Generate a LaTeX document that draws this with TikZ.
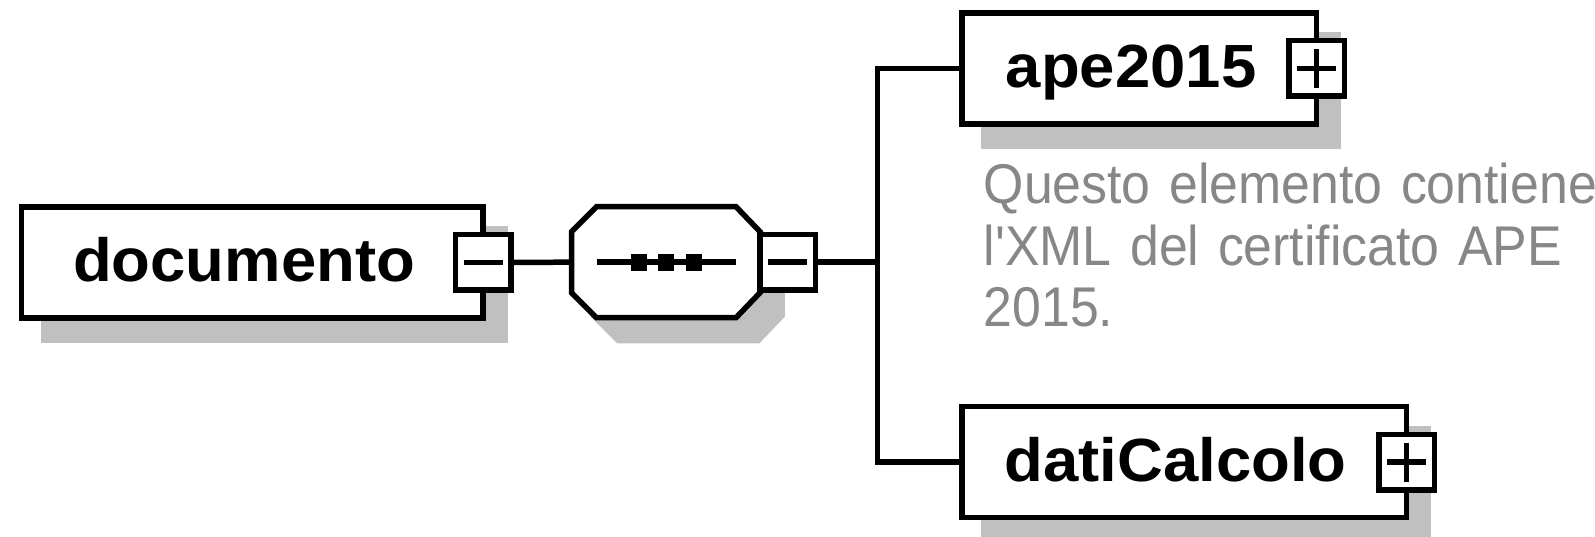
\documentclass[tikz,border=0pt]{standalone}
\usepackage{fontspec}
\setmainfont{Liberation Sans}
\newfontfamily\elemfont{Liberation Sans Bold}[FakeStretch=1.04]
\newfontfamily\notefont{Liberation Sans}[FakeStretch=0.925]
\usetikzlibrary{calc,backgrounds}
\definecolor{shadowgray}{RGB}{192,192,192}
\definecolor{notegray}{RGB}{135,135,135}

% outline of the sequence compositor, shifted by (#1,#2)
\newcommand\octagonpath[2]{%
  ($(seq.north west)+(25+#1,#2)$) -- ($(seq.north east)+(-24+#1,#2)$) --
  ($(seq.north east)+(#1,25+#2)$) -- ($(seq.south east)+(#1,-25+#2)$) --
  ($(seq.south east)+(-24+#1,#2)$) -- ($(seq.south west)+(25+#1,#2)$) --
  ($(seq.south west)+(#1,-25+#2)$) -- ($(seq.north west)+(#1,25+#2)$) -- cycle}

\begin{document}
\begin{tikzpicture}[x=1pt,y=-1pt,
  heavy/.style={line width=5.5pt},
  element/.style={heavy, draw, fill=white, rectangle, outer sep=0pt,
    inner ysep=36pt, minimum height=111pt, text height=39pt, text depth=0pt,
    align=left, font=\elemfont\fontsize{61}{70}\selectfont},
  signbox/.style={heavy, draw, fill=white, rectangle, outer sep=0pt,
    inner sep=0pt, minimum width=55.5pt, minimum height=55.5pt},
  castshadow/.style={heavy, draw=shadowgray, fill=shadowgray},
  note/.style={anchor=base west, inner sep=0pt, text width=660pt, align=left,
    text=notegray, font=\notefont\fontsize{56}{61.7}\selectfont}
]
\useasboundingbox (0,0) rectangle (1595,536);

% element boxes
\node[element, text width=358.3pt, inner xsep=51.5pt] (doc) at (252.35,262.35) {documento};
\node[element, text width=266.8pt, inner xsep=43.9pt] (ape) at (1139.3,68.35) {ape2015};
\node[element, text width=359.4pt, inner xsep=42.6pt] (dati) at (1184.3,462.2) {datiCalcolo};

% sequence compositor
\node[minimum width=188.5pt, minimum height=111pt, inner sep=0pt, outer sep=0pt] (seq) at (665.75,262.2) {};
\draw[heavy, fill=white] \octagonpath{0}{0};
\draw[heavy] ($(seq.west)+(25.5,0)$) -- ($(seq.east)+(-24,0)$);
\foreach \dx in {-27,0,28}
  \fill ($(seq.center)+(\dx-8,-8.5)$) rectangle ++(16,17);

% collapse / expand buttons
\node[signbox] (docsign) at (doc.east) {};
\node[signbox, anchor=west] (seqsign) at (seq.east) {};
\node[signbox] (apesign) at (ape.east) {};
\node[signbox] (datisign) at (dati.east) {};
\draw[heavy] ($(docsign.center)+(-19.5,0)$) -- ($(docsign.center)+(19.5,0)$);
\draw[heavy] ($(seqsign.center)+(-19.5,0)$) -- ($(seqsign.center)+(19.5,0)$);
\draw[heavy] ($(apesign.center)+(-19.5,0)$) -- ($(apesign.center)+(19.5,0)$)
             ($(apesign.center)+(0,-19.5)$) -- ($(apesign.center)+(0,19.5)$);
\draw[heavy] ($(datisign.center)+(-19.5,0)$) -- ($(datisign.center)+(19.5,0)$)
             ($(datisign.center)+(0,-19.5)$) -- ($(datisign.center)+(0,19.5)$);

% connectors
\coordinate (bus) at (877.5,262.2);
\draw[heavy] (docsign.east) -- (seq.west);
\draw[heavy] (seqsign.east) -- (bus);
\draw[heavy] (ape.west) -| (bus) |- (dati.west);

% annotation
\node[note] (desc) at (983.5,203.3) {Questo elemento contiene\\l\char"27 XML del certificato APE\\2015.};

% drop shadows
\begin{scope}[on background layer]
  \draw[castshadow] ($(doc.north west)+(22,22)$) rectangle ($(doc.south east)+(22,22)$);
  \draw[castshadow] ($(ape.north west)+(22,22)$) rectangle ($(ape.south east)+(22,22)$);
  \draw[castshadow] ($(dati.north west)+(22,22)$) rectangle ($(dati.south east)+(22,22)$);
  \draw[castshadow] \octagonpath{22}{23};
\end{scope}
\end{tikzpicture}
\end{document}
